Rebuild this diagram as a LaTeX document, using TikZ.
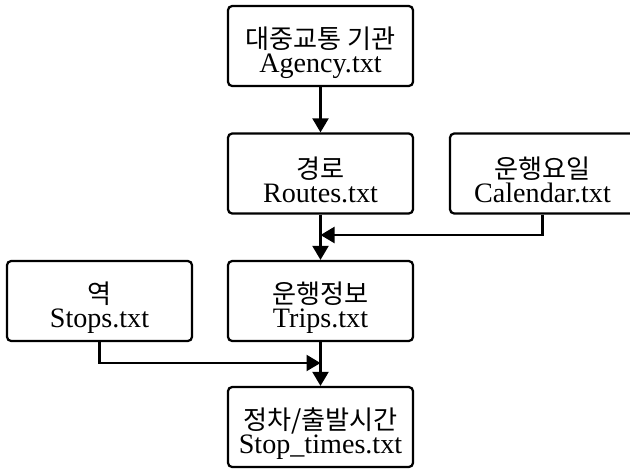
\documentclass[tikz,border=0pt]{standalone}
\usepackage{fontspec}
\setmainfont{Liberation Serif}
\newfontfamily\kr[Scale=0.93]{Noto Sans CJK KR}
\usepackage{tikz}
\usetikzlibrary{arrows.meta}
\newcommand{\kline}[1]{{\kr\rule{0pt}{25pt}#1}}
\tikzstyle{file}=[draw, line width=1.6pt, rounded corners=3pt, minimum width=4.625cm, minimum height=2cm, align=center, inner sep=0pt, font=\fontsize{20}{17}\selectfont]
\tikzstyle{arrow}=[draw=black, line width=1.6pt, -{Triangle[length=3.5mm, width=4mm]}]

\begin{document}
\begin{tikzpicture}[x=0.025cm, y=-0.025cm]
		   \useasboundingbox (0, 0) rectangle (630, 470);
		   \begin{scope}
			   \node (agency) at (320.5, 46)[file] {\kline{대중교통 기관}\\Agency.txt};
			   \node (routes) at (320.5, 173.5)[file] {\kline{경로}\\Routes.txt};
			   \node (calendar) at (542.5, 173.5)[file] {\kline{운행요일}\\Calendar.txt};
			   \node (stops) at (99.5, 301)[file] {\kline{역}\\Stops.txt};
			   \node (trips) at (320.5, 301)[file] {\kline{운행정보}\\Trips.txt};
			   \node (stoptimes) at (320.5, 427)[file] {\kline{정차/출발시간}\\Stop\_times.txt};

			   \coordinate (calj) at (320.5, 235);
			   \coordinate (stopj) at (320.5, 363);
		   \end{scope}
		   \begin{scope}
			   \path [arrow] (agency) edge (routes);
			   \path [arrow] (routes) edge (trips);
			   \path [arrow] (trips) edge (stoptimes);

			   \draw [arrow] (calendar.south) |- (calj);
			   \draw [arrow] (stops.south) |- (stopj);
		   \end{scope}
	   \end{tikzpicture}
\end{document}
